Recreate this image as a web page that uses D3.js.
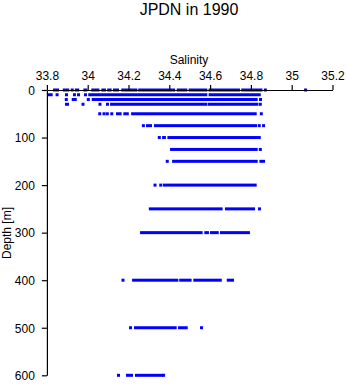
<!DOCTYPE html>
<html>
<head>
<meta charset="utf-8">
<script src="https://cdn.jsdelivr.net/npm/d3@7"></script>
<style>
  html, body { margin: 0; padding: 0; background: #fff; }
  svg { display: block; }
  text { font-family: "Liberation Sans", Arial, Helvetica, sans-serif; fill: #000; }
</style>
</head>
<body>
<svg id="chart" width="346" height="384"></svg>
<script>
// ---- data ----
const titleText = "JPDN in 1990";
const xLabel = "Salinity";
const yLabel = "Depth [m]";
const salinityTicks = [33.8, 34.0, 34.2, 34.4, 34.6, 34.8, 35.0, 35.2];
const depthTicks = [0, 100, 200, 300, 400, 500, 600];
const depths = [0, 10, 20, 30, 50, 75, 100, 125, 150, 200, 250, 300, 400, 500, 600];
// salinity observations per depth, grouped as runs [first, last] of densely packed points
const salinityRuns = [
  [[33.837,33.852],[33.885,33.902],[33.924,33.924],[33.944,33.951],[33.986,33.991],[34.025,34.050],[34.074,34.082],[34.103,34.110],[34.131,34.146],[34.172,34.236],[34.255,34.421],[34.444,34.481],[34.502,34.579],[34.600,34.739],[34.760,34.849],[34.871,34.871],[35.068,35.068]],
  [[33.811,33.821],[33.850,33.850],[33.896,33.896],[33.935,33.935],[33.955,33.955],[33.989,33.989],[34.010,34.579],[34.600,34.841]],
  [[33.895,33.895],[33.929,33.939],[34.003,34.003],[34.027,34.826],[34.847,34.847]],
  [[33.896,33.901],[33.977,33.977],[34.060,34.060],[34.097,34.097],[34.117,34.578],[34.595,34.829],[34.846,34.846]],
  [[34.059,34.059],[34.080,34.080],[34.096,34.096],[34.118,34.118],[34.146,34.159],[34.182,34.194],[34.220,34.821],[34.851,34.851]],
  [[34.273,34.273],[34.293,34.308],[34.332,34.823],[34.841,34.841],[34.862,34.862]],
  [[34.351,34.351],[34.372,34.376],[34.398,34.841]],
  [[34.411,34.826],[34.846,34.846]],
  [[34.390,34.390],[34.421,34.826],[34.849,34.862]],
  [[34.330,34.330],[34.358,34.358],[34.376,34.821]],
  [[34.307,34.654],[34.680,34.813],[34.842,34.842]],
  [[34.264,34.556],[34.579,34.587],[34.607,34.635],[34.656,34.788]],
  [[34.173,34.173],[34.225,34.437],[34.456,34.502],[34.525,34.650],[34.689,34.710]],
  [[34.210,34.210],[34.234,34.429],[34.450,34.483],[34.558,34.558]],
  [[34.151,34.151],[34.195,34.215],[34.239,34.362],[34.372,34.372]]
];

// ---- chart ----
const svg = d3.select("#chart");
const x = d3.scaleLinear().domain([33.8, 35.2]).range([46.9, 332.5]);
const y = d3.scaleLinear().domain([0, 600]).range([90, 375.3]);
const ms = 3; // marker size

const runs = [];
depths.forEach((d, i) => salinityRuns[i].forEach(r => runs.push({depth: d, s0: r[0], s1: r[1]})));

svg.append("g").selectAll("rect").data(runs).join("rect")
  .attr("x", d => x(d.s0) - ms / 2)
  .attr("y", d => y(d.depth) - ms / 2)
  .attr("width", d => x(d.s1) - x(d.s0) + ms)
  .attr("height", ms)
  .attr("fill", "#0000ff");

// top axis
const xAxis = d3.axisTop(x).tickValues(salinityTicks).tickSize(5).tickSizeOuter(0)
  .tickFormat(d => String(+d.toFixed(1)));
const gx = svg.append("g").attr("transform", "translate(0,90)").call(xAxis);
gx.selectAll("text").attr("font-size", 12).attr("y", -10).attr("dy", 0);

// left axis
const yAxis = d3.axisLeft(y).tickValues(depthTicks).tickSize(5).tickSizeOuter(0);
const gy = svg.append("g").attr("transform", "translate(46.9,0)").call(yAxis);
gy.selectAll("text").attr("font-size", 12).attr("x", -12).attr("dy", "0.36em");

svg.selectAll(".domain, .tick line").attr("stroke", "#000").attr("stroke-width", 1.2);
svg.selectAll(".tick text").attr("font-family", "Liberation Sans, Arial, sans-serif");

// labels
svg.append("text").attr("x", 189).attr("y", 15).attr("text-anchor", "middle")
  .attr("font-size", 16).text(titleText);
svg.append("text").attr("x", 189).attr("y", 64).attr("text-anchor", "middle")
  .attr("font-size", 12).text(xLabel);
svg.append("text").attr("transform", "translate(11,233) rotate(-90)").attr("text-anchor", "middle")
  .attr("font-size", 12).text(yLabel);
</script>
</body>
</html>
